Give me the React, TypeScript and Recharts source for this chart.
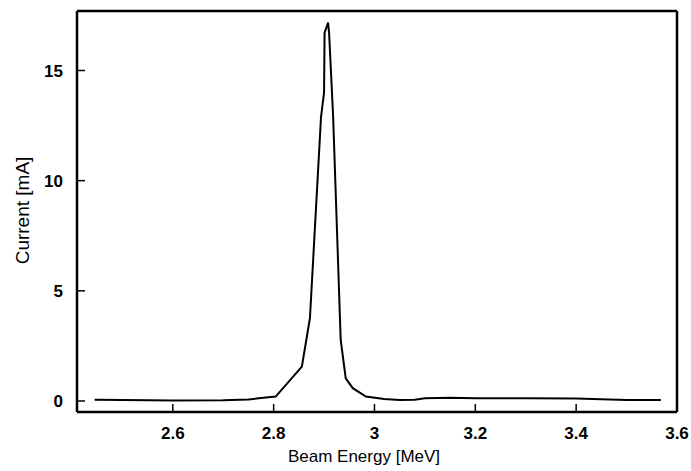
import React from 'react';
import { LineChart, Line, XAxis, YAxis } from 'recharts';

// beam energy scan
const energyMeV = [
  2.445, 2.5, 2.6, 2.7, 2.75, 2.804, 2.856, 2.872, 2.894, 2.9, 2.901, 2.908, 2.91, 2.918,
  2.933, 2.943, 2.957, 2.983, 3.019, 3.05, 3.08, 3.1, 3.15, 3.2, 3.3, 3.4, 3.45, 3.5, 3.568,
];
const currentMA = [
  0.06, 0.05, 0.02, 0.03, 0.07, 0.2, 1.56, 3.76, 12.9, 14.0, 16.7, 17.17, 16.7, 12.9,
  2.77, 1.03, 0.58, 0.2, 0.09, 0.05, 0.06, 0.12, 0.15, 0.12, 0.12, 0.11, 0.08, 0.04, 0.05,
];
const xTicks = [2.6, 2.8, 3, 3.2, 3.4, 3.6];
const yTicks = [0, 5, 10, 15];

const data = energyMeV.map((e, i) => ({ energy: e, current: currentMA[i] }));

const FONT = '"Liberation Sans", Arial, Helvetica, sans-serif';
const X_MARGIN = 15;
const Y_MARGIN = 14;
const TICK_LEN = 8;

// ticks point inward, so draw the tick mark together with the label
function XTick(props: any) {
  const { x, y, payload } = props;
  const axisY = y - X_MARGIN;
  return (
    <g>
      <path d={`M${x},${axisY}V${axisY - TICK_LEN}`} stroke="#000" strokeWidth={1.5} />
      <text x={x} y={y} dy="0.71em" textAnchor="middle" fontSize={17} fontWeight={700} fontFamily={FONT} fill="#000">
        {payload.value}
      </text>
    </g>
  );
}

function YTick(props: any) {
  const { x, y, payload } = props;
  const axisX = x + Y_MARGIN;
  return (
    <g>
      <path d={`M${axisX},${y}H${axisX + TICK_LEN}`} stroke="#000" strokeWidth={1.5} />
      <text x={x} y={y} dy="0.36em" textAnchor="end" fontSize={17} fontWeight={700} fontFamily={FONT} fill="#000">
        {payload.value}
      </text>
    </g>
  );
}

function XTitle({ viewBox }: any) {
  return (
    <text
      x={viewBox.x + viewBox.width / 2 - 13}
      y={viewBox.y + viewBox.height - 9}
      textAnchor="middle"
      fontSize={17}
      fontFamily={FONT}
      fill="#000"
    >
      Beam Energy [MeV]
    </text>
  );
}

function YTitle({ viewBox }: any) {
  const cx = viewBox.x + 22;
  const cy = viewBox.y + viewBox.height / 2 - 1;
  return (
    <text
      x={cx}
      y={cy}
      transform={`rotate(-90 ${cx} ${cy})`}
      textAnchor="middle"
      dominantBaseline="central"
      fontSize={19}
      fontFamily={FONT}
      fill="#000"
    >
      Current [mA]
    </text>
  );
}

export default function App() {
  return (
    <div style={{ position: 'absolute', left: 0, top: 0, background: '#fff' }}>
      <LineChart
        width={691}
        height={471}
        data={data}
        margin={{ top: 10, right: 13, left: 0, bottom: 0 }}
      >
        <XAxis
          dataKey="energy"
          type="number"
          domain={[2.41, 3.6]}
          ticks={xTicks}
          allowDataOverflow
          height={59}
          tickSize={0}
          tickMargin={X_MARGIN}
          axisLine={{ stroke: '#000', strokeWidth: 2.5 }}
          tickLine={false}
          tick={XTick}
          label={{ content: XTitle }}
        />
        <XAxis
          xAxisId="top"
          dataKey="energy"
          type="number"
          domain={[2.41, 3.6]}
          allowDataOverflow
          orientation="top"
          height={1}
          tick={false}
          tickLine={false}
          axisLine={{ stroke: '#000', strokeWidth: 2.5 }}
        />
        <YAxis
          type="number"
          domain={[-0.5, 17.7]}
          ticks={yTicks}
          allowDataOverflow
          width={77}
          tickSize={0}
          tickMargin={Y_MARGIN}
          axisLine={{ stroke: '#000', strokeWidth: 2.5 }}
          tickLine={false}
          tick={YTick}
          label={{ content: YTitle }}
        />
        <YAxis
          yAxisId="right"
          orientation="right"
          type="number"
          domain={[-0.5, 17.7]}
          allowDataOverflow
          width={1}
          tick={false}
          tickLine={false}
          axisLine={{ stroke: '#000', strokeWidth: 2.5 }}
        />
        <Line
          type="linear"
          dataKey="current"
          stroke="#000"
          strokeWidth={2}
          dot={false}
          isAnimationActive={false}
        />
      </LineChart>
    </div>
  );
}
